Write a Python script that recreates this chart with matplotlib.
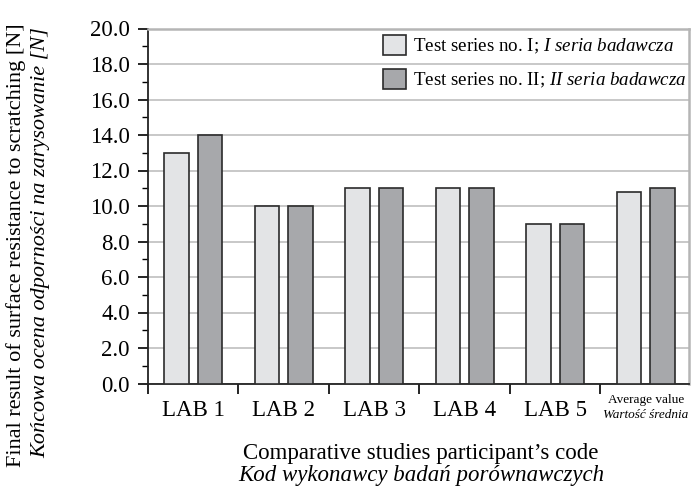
import matplotlib
matplotlib.use("Agg")
import matplotlib.pyplot as plt
import numpy as np
from matplotlib.ticker import MultipleLocator, FormatStrFormatter

plt.rcParams['font.family'] = 'Liberation Serif'
plt.rcParams['mathtext.fontset'] = 'custom'
plt.rcParams['mathtext.rm'] = 'Liberation Serif'
plt.rcParams['mathtext.it'] = 'Liberation Serif:italic'

labs = ["LAB 1", "LAB 2", "LAB 3", "LAB 4", "LAB 5", ""]
series_1 = [13.0, 10.0, 11.0, 11.0, 9.0, 10.8]
series_2 = [14.0, 10.0, 11.0, 11.0, 9.0, 11.0]
legend_labels = [r"Test series no. I; $\mathit{I\ seria\ badawcza}$",
                 r"Test series no. II; $\mathit{II\ seria\ badawcza}$"]

LIGHT = "#e3e4e6"
DARK = "#a7a8ab"
EDGE = "#2b2b2b"

fig = plt.figure(figsize=(6.92, 4.88), dpi=100)
W, H = 692, 488
x0, x1, ytop, ybot = 148, 689, 28.5, 383.5
ax = fig.add_axes([x0 / W, (H - ybot) / H, (x1 - x0) / W, (ybot - ytop) / H])

x = np.arange(len(labs))
off = 0.187
bw = 0.27
ax.bar(x - off, series_1, bw, color=LIGHT, edgecolor=EDGE, linewidth=1.2, zorder=3,
       label=legend_labels[0])
ax.bar(x + off, series_2, bw, color=DARK, edgecolor=EDGE, linewidth=1.2, zorder=3,
       label=legend_labels[1])

ax.set_xlim(-0.5, 5.478)
ax.set_ylim(0, 20)

ax.yaxis.set_major_locator(MultipleLocator(2))
ax.yaxis.set_minor_locator(MultipleLocator(1))
ax.yaxis.set_major_formatter(FormatStrFormatter("%.1f"))
ax.tick_params(axis='y', which='major', length=7, width=1.2, direction='out', pad=6,
               labelsize=16.5)
ax.tick_params(axis='y', which='minor', length=4, width=1.0, direction='out')
ax.grid(axis='y', color='#c4c4c4', linewidth=1.3, zorder=0)

ax.set_xticks(np.arange(-0.5, 5.0, 1.0))
ax.set_xticklabels([])
ax.set_xticks(x, minor=True)
ax.set_xticklabels(labs, minor=True, fontsize=16.5)
ax.tick_params(axis='x', which='major', length=7, width=1.2, direction='out')
ax.tick_params(axis='x', which='minor', length=0, pad=12)

for s in ['left', 'bottom']:
    ax.spines[s].set_color('#222222')
    ax.spines[s].set_linewidth(1.3)
for s in ['top', 'right']:
    ax.spines[s].set_color('#b5b5b5')
    ax.spines[s].set_linewidth(1.8)

ax.text(5, -0.95, "Average value", ha='center', va='center', fontsize=9.5)
ax.text(5, -1.8, "Wartość średnia", ha='center', va='center', fontsize=9.5,
        style='italic')

ax.legend(loc='upper left', bbox_to_anchor=((382.7 - x0) / (x1 - x0), (ybot - 35) / (ybot - ytop)),
          frameon=False, fontsize=13.7, handlelength=1.2, handleheight=1.2,
          labelspacing=0.72, handletextpad=0.4, borderpad=0, borderaxespad=0)

fig.text(16 / W, 1 - 245 / H, "Final result of surface resistance to scratching [N]",
         rotation=90, ha='center', va='center', fontsize=16)
fig.text(41 / W, 1 - 243 / H, "Końcowa ocena odporności na zarysowanie [N]",
         rotation=90, ha='center', va='center', fontsize=16, style='italic')

fig.text(421 / W, 1 - 459 / H, "Comparative studies participant’s code",
         ha='center', va='baseline', fontsize=16.5)
fig.text(421 / W, 1 - 481 / H, "Kod wykonawcy badań porównawczych",
         ha='center', va='baseline', fontsize=16.5, style='italic')

fig.savefig("out.png", dpi=100)
